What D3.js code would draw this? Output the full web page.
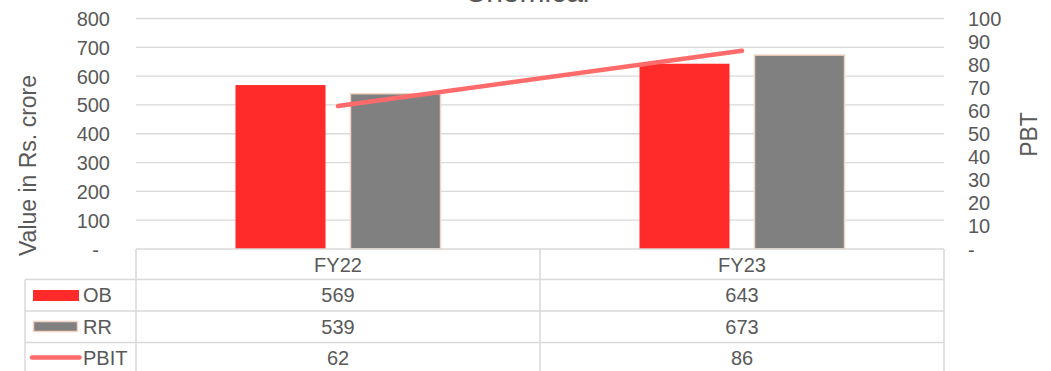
<!DOCTYPE html>
<html><head><meta charset="utf-8">
<script src="https://cdn.jsdelivr.net/npm/d3@7"></script>
<style>body{margin:0;background:#fff}svg{display:block}text{font-family:"Liberation Sans",Arial,sans-serif;fill:#595959}</style>
</head><body>
<svg id="c" width="1051" height="371"></svg>
<script>
const categories = ["FY22", "FY23"];
const obValues = [569, 643];
const rrValues = [539, 673];
const pbitValues = [62, 86];
const leftTicks = [0, 100, 200, 300, 400, 500, 600, 700, 800];
const rightTicks = [0, 10, 20, 30, 40, 50, 60, 70, 80, 90, 100];
const seriesNames = ["OB", "RR", "PBIT"];
const title = "Chemical";

const svg = d3.select("#c");
const L = 136, R = 944, T = 18.5, B = 249;
const FS = 20;
const grid = "#D9D9D9";

const x = d3.scaleBand().domain(categories).range([L, R]).padding(0);
const xs = d3.scaleBand().domain(["OB", "RR"]).range([0, x.bandwidth()]).paddingInner(0.217).paddingOuter(0.865);
const yL = d3.scaleLinear().domain([0, 800]).range([B, T]);
const yR = d3.scaleLinear().domain([0, 100]).range([B, T]);

// title
svg.append("text").attr("x", 527).attr("y", 2).attr("text-anchor", "middle")
  .style("font-size", "30px").text(title);

// gridlines
svg.append("g").selectAll("line").data(leftTicks.filter(d => d > 0)).join("line")
  .attr("x1", L).attr("x2", R).attr("y1", d => yL(d)).attr("y2", d => yL(d))
  .attr("stroke", grid).attr("stroke-width", 1.3);

// left axis
const gL = svg.append("g").attr("transform", `translate(110,0)`)
  .call(d3.axisLeft(yL).tickValues(leftTicks).tickSize(0).tickPadding(0)
    .tickFormat(d => d === 0 ? "-\u00a0\u00a0" : d));
gL.select(".domain").remove();
gL.selectAll("text").style("font-size", FS + "px").attr("fill", "#595959").attr("dy", "0.35em");

// right axis
const gR = svg.append("g").attr("transform", `translate(968,0)`)
  .call(d3.axisRight(yR).tickValues(rightTicks).tickSize(0).tickPadding(0)
    .tickFormat(d => d === 0 ? "-" : d));
gR.select(".domain").remove();
gR.selectAll("text").style("font-size", FS + "px").attr("fill", "#595959").attr("dy", "0.35em");

// axis titles
svg.append("text").attr("transform", "translate(36,165.5) rotate(-90)").attr("text-anchor", "middle")
  .style("font-size", "23px").text("Value in Rs. crore");
svg.append("text").attr("transform", "translate(1037,134.5) rotate(-90)").attr("text-anchor", "middle")
  .style("font-size", "23px").text("PBT");

const colors = { OB: "#FF2A2A", RR: "#808080", PBIT: "#FF6B6B" };

// bars
const bars = svg.append("g");
categories.forEach((c, i) => {
  bars.append("rect").attr("x", x(c) + xs("OB")).attr("y", yL(obValues[i]))
    .attr("width", xs.bandwidth()).attr("height", yL(0) - yL(obValues[i]))
    .attr("fill", colors.OB);
  bars.append("rect").attr("x", x(c) + xs("RR")).attr("y", yL(rrValues[i]))
    .attr("width", xs.bandwidth()).attr("height", yL(0) - yL(rrValues[i]))
    .attr("fill", colors.RR).attr("stroke", "#F4D3C2").attr("stroke-width", 1.5);
});

// line
const line = d3.line().x((d, i) => x(categories[i]) + x.bandwidth() / 2).y(d => yR(d));
svg.append("path").datum(pbitValues).attr("d", line).attr("fill", "none")
  .attr("stroke", colors.PBIT).attr("stroke-width", 4.5).attr("stroke-linecap", "round");

// data table
const rowsY = [249, 279.5, 311, 342.5, 374];
const tbl = svg.append("g").attr("stroke", grid).attr("stroke-width", 1.5);
tbl.append("line").attr("x1", L).attr("x2", R).attr("y1", rowsY[0]).attr("y2", rowsY[0]);
rowsY.slice(1).forEach(y => tbl.append("line").attr("x1", 25).attr("x2", R).attr("y1", y).attr("y2", y));
tbl.append("line").attr("x1", 25).attr("x2", 25).attr("y1", rowsY[1]).attr("y2", rowsY[4]);
[L, x("FY23"), R].forEach(xx => tbl.append("line").attr("x1", xx).attr("x2", xx).attr("y1", rowsY[0]).attr("y2", rowsY[4]));

// header text
categories.forEach(c => svg.append("text").attr("x", x(c) + x.bandwidth() / 2).attr("y", 271.5)
  .attr("text-anchor", "middle").style("font-size", FS + "px").text(c));

const tableData = [obValues, rrValues, pbitValues];
const rowBase = [302, 333.5, 365];
tableData.forEach((vals, r) => {
  vals.forEach((v, i) => svg.append("text").attr("x", x(categories[i]) + x.bandwidth() / 2).attr("y", rowBase[r])
    .attr("text-anchor", "middle").style("font-size", FS + "px").text(v));
  svg.append("text").attr("x", 83).attr("y", rowBase[r]).style("font-size", FS + "px").text(seriesNames[r]);
});

// legend keys
svg.append("rect").attr("x", 33).attr("y", 290).attr("width", 46).attr("height", 11).attr("fill", colors.OB);
svg.append("rect").attr("x", 33.5).attr("y", 321.5).attr("width", 44).attr("height", 10)
  .attr("fill", colors.RR).attr("stroke", "#F4D3C2").attr("stroke-width", 1.5);
svg.append("line").attr("x1", 32).attr("x2", 79.5).attr("y1", 357.5).attr("y2", 357.5)
  .attr("stroke", colors.PBIT).attr("stroke-width", 4.5).attr("stroke-linecap", "round");
</script>
</body></html>
